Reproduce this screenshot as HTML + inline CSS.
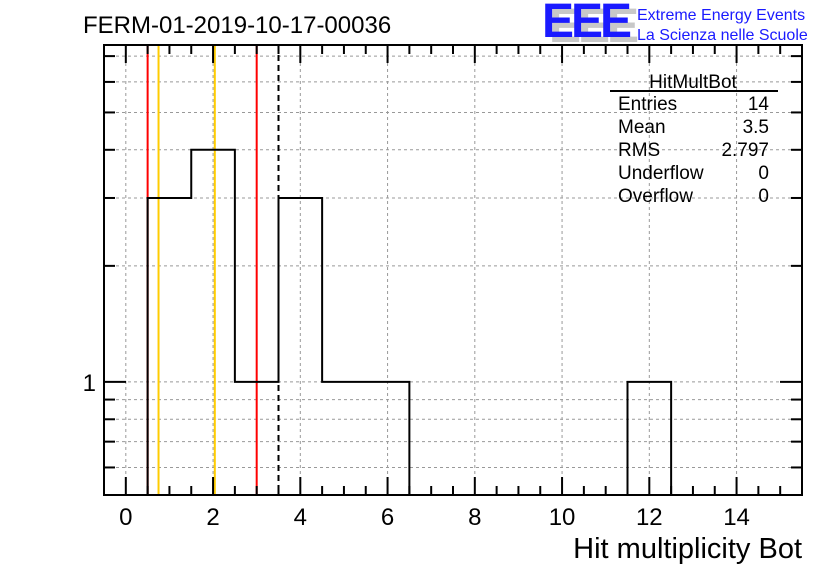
<!DOCTYPE html>
<html><head><meta charset="utf-8"><style>
body{margin:0;background:#fff}
svg{display:block;font-family:"Liberation Sans",sans-serif}
</style></head><body>
<svg id="c" width="836" height="572" viewBox="0 0 836 572">
<rect width="836" height="572" fill="#fff"/>
<g id="grid"></g><g id="vlines"></g><g id="hist"></g><g id="axes"></g>
<text x="83" y="33" font-size="24">FERM-01-2019-10-17-00036</text>
<g>
<text x="549" y="42" font-size="48" font-weight="bold" fill="#c8c8c8" letter-spacing="-3">EEE</text>
<text x="542" y="37" font-size="48" font-weight="bold" fill="#1a1aff" letter-spacing="-3">EEE</text>
<text x="637" y="20" font-size="16" fill="#1a1aff">Extreme Energy Events</text>
<text x="637" y="40" font-size="16" fill="#1a1aff">La Scienza nelle Scuole</text>
</g>
<g font-size="19">
<text x="693" y="88" text-anchor="middle">HitMultBot</text>
<line x1="610" y1="91" x2="778" y2="91" stroke="#000" stroke-width="2"/>
<text x="618" y="110">Entries</text><text x="769" y="110" text-anchor="end">14</text>
<text x="618" y="133">Mean</text><text x="769" y="133" text-anchor="end">3.5</text>
<text x="618" y="156">RMS</text><text x="769" y="156" text-anchor="end">2.797</text>
<text x="618" y="179">Underflow</text><text x="769" y="179" text-anchor="end">0</text>
<text x="618" y="202">Overflow</text><text x="769" y="202" text-anchor="end">0</text>
</g>
<text x="802" y="558" font-size="29" text-anchor="end">Hit multiplicity Bot</text>
</svg>
<script>
const binCenters=[1,2,3,4,5,6,12];
const binCounts=[3,4,1,3,1,1,1];
const xTicks=[0,2,4,6,8,10,12,14];
const yTicks=[0.6,0.7,0.8,0.9,1,2,3,4,5,6,7];
const yLabels=[1];
const redLines=[0.5,3.0];
const orangeLines=[0.75,2.04];
const meanLine=[3.5];

const L=104,R=802,T=45,B=495,xmin=-0.5,xmax=15.5,ymin=0.509,ymax=7.48;
const NS="http://www.w3.org/2000/svg";
const X=v=>L+(v-xmin)/(xmax-xmin)*(R-L);
const Y=v=>B-(Math.log10(v)-Math.log10(ymin))/(Math.log10(ymax)-Math.log10(ymin))*(B-T);
function mk(p,t,a){const e=document.createElementNS(NS,t);for(const k in a)e.setAttribute(k,a[k]);document.getElementById(p).appendChild(e);return e;}

xTicks.forEach(v=>{const e=mk('grid','line',{x1:X(v),x2:X(v),y1:T,y2:B,stroke:'#999','stroke-dasharray':'3,3'});

});
yTicks.forEach(v=>{const e=mk('grid','line',{x1:L,x2:R,y1:Y(v),y2:Y(v),stroke:'#999','stroke-dasharray':'3,3'});

});

redLines.forEach(v=>{const e=mk('vlines','line',{x1:X(v),x2:X(v),y1:T,y2:B,stroke:'#f00','stroke-width':2});

});
orangeLines.forEach(v=>{const e=mk('vlines','line',{x1:X(v),x2:X(v),y1:T,y2:B,stroke:'#fc0','stroke-width':2});

});
meanLine.forEach(v=>{const e=mk('vlines','line',{x1:X(v),x2:X(v),y1:T,y2:B,stroke:'#000','stroke-width':2,'stroke-dasharray':'6,4'});

});

let d='';
const sorted=binCenters.map((c,i)=>[c,binCounts[i]]).sort((a,b)=>a[0]-b[0]);
let lastEnd=null;
sorted.forEach(([c,n])=>{const x0=X(c-0.5),x1=X(c+0.5),y=Y(n);
 if(lastEnd===null||Math.abs(lastEnd-x0)>0.5){if(lastEnd!==null)d+=`L${lastEnd},${B}`;d+=`M${x0},${B}`;}
 d+=`L${x0},${y}L${x1},${y}`;lastEnd=x1;});
d+=`L${lastEnd},${B}`;
const h=mk('hist','path',{d:d,fill:'none',stroke:'#000','stroke-width':2});



const fr=mk('axes','rect',{x:L,y:T,width:R-L,height:B-T,fill:'none',stroke:'#000','stroke-width':2});


for(let v=0;v<=15;v+=0.5){const maj=xTicks.includes(v);const len=maj?18:9;
 mk('axes','line',{x1:X(v),x2:X(v),y1:B,y2:B-len,stroke:'#000','stroke-width':2});
 mk('axes','line',{x1:X(v),x2:X(v),y1:T,y2:T+len,stroke:'#000','stroke-width':2});}
xTicks.forEach(v=>{const t=mk('axes','text',{x:X(v),y:525,'font-size':24,'text-anchor':'middle'});t.textContent=v;

});
yTicks.forEach(v=>{const len=yLabels.includes(v)?22:11;
 mk('axes','line',{x1:L,x2:L+len,y1:Y(v),y2:Y(v),stroke:'#000','stroke-width':2});
 mk('axes','line',{x1:R,x2:R-len,y1:Y(v),y2:Y(v),stroke:'#000','stroke-width':2});});
yLabels.forEach(v=>{const t=mk('axes','text',{x:96,y:Y(v)+9,'font-size':24,'text-anchor':'end'});t.textContent=v;

});
</script>
</body></html>
